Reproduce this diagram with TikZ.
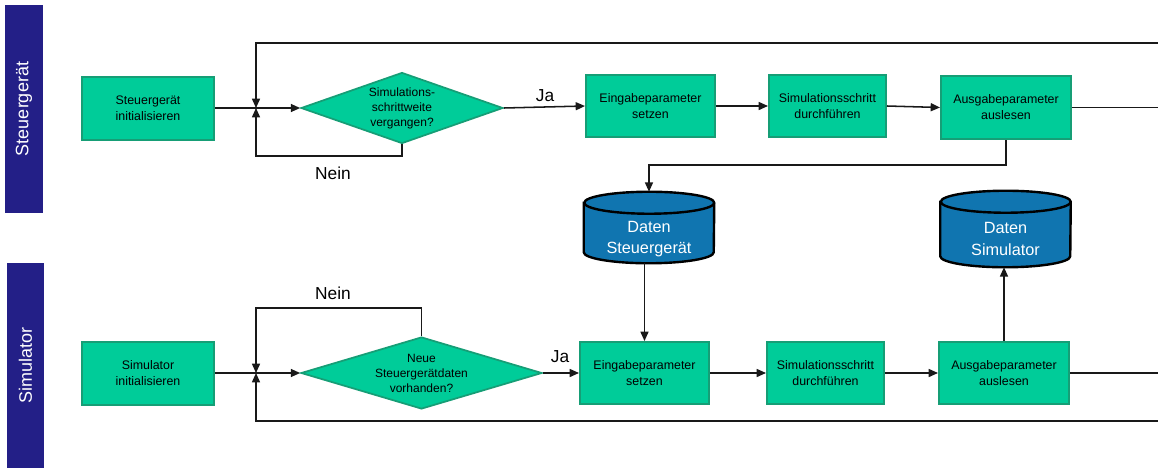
\documentclass[tikz,border=0pt]{standalone}
\usepackage{fontspec}
\setmainfont{Liberation Sans}
\usetikzlibrary{shapes.geometric,arrows.meta,calc}
\definecolor{boxfill}{RGB}{0,204,153}
\definecolor{boxline}{RGB}{22,158,118}
\definecolor{dbfill}{RGB}{16,117,176}
\definecolor{lanefill}{RGB}{35,31,135}
\newcommand\dbcyl[1]{%
  \path[dbline] ([yshift=-8.25pt]#1.north west) -- ([yshift=8.25pt]#1.south west)
    arc[start angle=180,end angle=360,x radius=48.75pt,y radius=8.25pt]
    -- ([yshift=-8.25pt]#1.north east)
    arc[start angle=0,end angle=180,x radius=48.75pt,y radius=8.25pt] -- cycle;
  \draw[dbline,fill=none] ([yshift=-8.25pt]#1.north east)
    arc[start angle=0,end angle=-180,x radius=48.75pt,y radius=8.25pt];}
\begin{document}
\begin{tikzpicture}[x=0.75pt,y=-0.75pt,
  procbox/.style={rectangle, draw=boxline, fill=boxfill, line width=1.5pt,
    font=\fontsize{9.3}{12}\selectfont, align=center, inner sep=0pt},
  decision/.style={diamond, draw=boxline, fill=boxfill, line width=1.3pt,
    font=\fontsize{9}{11.2}\selectfont, align=center, inner sep=0pt},
  lane/.style={rectangle, fill=lanefill, draw=none, text=white,
    font=\fontsize{13.5}{16}\selectfont, inner sep=0pt},
  dbgeom/.style={rectangle, draw=none, inner sep=0pt, minimum width=97.5pt},
  dbline/.style={draw=black, fill=dbfill, line width=1.8pt},
  dbtext/.style={text=white, font=\fontsize{12.2}{16.3}\selectfont, align=center, inner sep=0pt},
  lbl/.style={font=\fontsize{13}{15}\selectfont, inner sep=0pt},
  conn/.style={draw=black!90, line width=1.15pt},
  arr/.style={conn, -{Triangle[length=7pt,width=6pt]}}
]
\useasboundingbox (0,0) rectangle (1158,468);

% lanes
\node[lane, rotate=90, minimum width=156pt, minimum height=28.5pt] (laneS) at (24,109) {Steuergerät};
\node[lane, rotate=90, minimum width=153.75pt, minimum height=27.75pt] (laneM) at (25.5,365.5) {Simulator};

% top row
\node[procbox, minimum width=99pt, minimum height=47.25pt] (initS) at (148,108) {Steuergerät\\initialisieren};
\node[decision, aspect=2.85, minimum width=151.5pt, minimum height=53.25pt] (dS) at (402,108) {Simulations-\\schrittweite\\vergangen?};
\node[procbox, minimum width=96.75pt, minimum height=46.5pt] (einS) at (650.5,106) {Eingabeparameter\\setzen};
\node[procbox, minimum width=87.75pt, minimum height=46.5pt] (simS) at (827.5,106) {Simulationsschritt\\durchführen};
\node[procbox, minimum width=97.5pt, minimum height=47.25pt] (ausS) at (1006,107.5) {Ausgabeparameter\\auslesen};

% databases
\node[dbgeom, minimum height=53.25pt] (dbS) at (649,227.5) {};
\dbcyl{dbS}
\node[dbtext] (dbStext) at (649,239) {Daten\\Steuergerät};
\node[dbgeom, minimum height=57pt] (dbM) at (1005.5,229) {};
\dbcyl{dbM}
\node[dbtext] (dbMtext) at (1005.5,239) {Daten\\Simulator};

% bottom row
\node[procbox, minimum width=99pt, minimum height=47.25pt] (initM) at (148,373) {Simulator\\initialisieren};
\node[decision, aspect=3.35, minimum width=180.75pt, minimum height=54pt] (dM) at (421.5,373) {Neue\\Steuergerätdaten\\vorhanden?};
\node[procbox, minimum width=96.75pt, minimum height=46.5pt] (einM) at (644.5,373) {Eingabeparameter\\setzen};
\node[procbox, minimum width=87.75pt, minimum height=46.5pt] (simM) at (825.5,373) {Simulationsschritt\\durchführen};
\node[procbox, minimum width=97.5pt, minimum height=46.5pt] (ausM) at (1004,373) {Ausgabeparameter\\auslesen};

% coordinates
\coordinate (jS) at (256,108);
\coordinate (nS) at (256,156);
\coordinate (tS) at (1158,43);
\coordinate (eS) at (1158,107.5);
\coordinate (jM) at (256,373);
\coordinate (nM) at (256,308);
\coordinate (bM) at (1158,421);
\coordinate (eM) at (1158,373);

% top connectors
\draw[arr] (initS.east) -- (dS.west);
\draw[arr] (tS) -| (jS);
\draw[arr] (dS.south) |- (nS) -- (jS);
\draw[arr] (dS.east) -- (einS.west);
\draw[arr] (einS.east) -- (simS.west);
\draw[arr] (simS.east) -- (ausS.west);
\draw[conn] (ausS.east) -- (eS);
\draw[arr] (ausS.south) -- ++(0,25) -| (dbS.north);
\draw[arr] (einM.north |- dbS.south) -- (einM.north);

% bottom connectors
\draw[arr] (initM.east) -- (dM.west);
\draw[arr] (dM.north) |- (nM) -- (jM);
\draw[arr] (bM) -| (jM);
\draw[arr] (dM.east) -- (einM.west);
\draw[arr] (einM.east) -- (simM.west);
\draw[arr] (simM.east) -- (ausM.west);
\draw[conn] (ausM.east) -- (eM);
\draw[arr] (ausM.north) -- (ausM.north |- dbM.south);

% labels
\node[lbl] (neinS) at (333,173) {Nein};
\node[lbl] (jaS) at (545,96) {Ja};
\node[lbl] (neinM) at (333,293) {Nein};
\node[lbl] (jaM) at (560,357) {Ja};
\end{tikzpicture}
\end{document}
